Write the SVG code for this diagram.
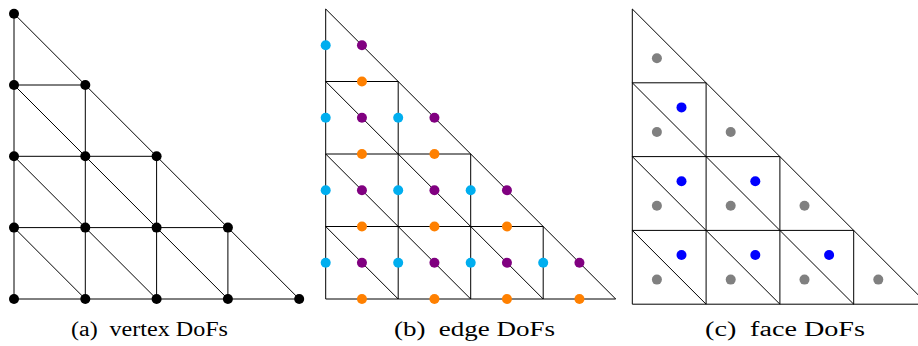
<svg xmlns="http://www.w3.org/2000/svg" width="918" height="346" viewBox="0 0 918 346">
<style>
.ln{fill:none;stroke:#000;stroke-width:1}
.v{fill:#000}
.cy{fill:#00aeef}
.pu{fill:#800080}
.or{fill:#ff8000}
.gr{fill:#808080}
.bl{fill:#0000ff}
.cap{font-family:"Liberation Serif","DejaVu Serif",serif;font-size:20.5px;fill:#000}
</style>
<defs>
<circle id="d" r="5"/>
</defs>
<rect width="918" height="346" fill="#fff"/>
<g id="connectors">
<path class="ln" d="M14,13.7 L14,299 L299.2,299 Z M14,85 L85.3,85 M14,156.3 L156.6,156.3 M14,227.6 L227.9,227.6 M85.3,85 L85.3,299 M156.6,156.3 L156.6,299 M227.9,227.6 L227.9,299 M14,85 L227.9,299 M14,156.3 L156.6,299 M14,227.6 L85.3,299"/>
<path class="ln" d="M325.7,9 L325.7,299 L615.7,299 Z M325.7,81.5 L398.2,81.5 M325.7,154 L470.7,154 M325.7,226.5 L543.2,226.5 M398.2,81.5 L398.2,299 M470.7,154 L470.7,299 M543.2,226.5 L543.2,299 M325.7,81.5 L543.2,299 M325.7,154 L470.7,299 M325.7,226.5 L398.2,299"/>
<path class="ln" d="M632.3,9 L632.3,304.2 L927.5,304.2 Z M632.3,82.8 L706.1,82.8 M632.3,156.6 L779.9,156.6 M632.3,230.4 L853.7,230.4 M706.1,82.8 L706.1,304.2 M779.9,156.6 L779.9,304.2 M853.7,230.4 L853.7,304.2 M632.3,82.8 L853.7,304.2 M632.3,156.6 L779.9,304.2 M632.3,230.4 L706.1,304.2"/>
</g>
<g id="panel-a-nodes" class="v">
<use href="#d" x="14" y="13.7"/>
<use href="#d" x="14" y="85"/><use href="#d" x="85.3" y="85"/>
<use href="#d" x="14" y="156.3"/><use href="#d" x="85.3" y="156.3"/><use href="#d" x="156.6" y="156.3"/>
<use href="#d" x="14" y="227.6"/><use href="#d" x="85.3" y="227.6"/><use href="#d" x="156.6" y="227.6"/><use href="#d" x="227.9" y="227.6"/>
<use href="#d" x="14" y="299"/><use href="#d" x="85.3" y="299"/><use href="#d" x="156.6" y="299"/><use href="#d" x="227.9" y="299"/><use href="#d" x="299.2" y="299"/>
</g>
<g id="panel-b-vertical" class="cy">
<use href="#d" x="325.7" y="45.25"/>
<use href="#d" x="325.7" y="117.75"/><use href="#d" x="398.2" y="117.75"/>
<use href="#d" x="325.7" y="190.25"/><use href="#d" x="398.2" y="190.25"/><use href="#d" x="470.7" y="190.25"/>
<use href="#d" x="325.7" y="262.75"/><use href="#d" x="398.2" y="262.75"/><use href="#d" x="470.7" y="262.75"/><use href="#d" x="543.2" y="262.75"/>
</g>
<g id="panel-b-diagonal" class="pu">
<use href="#d" x="361.95" y="45.25"/>
<use href="#d" x="361.95" y="117.75"/><use href="#d" x="434.45" y="117.75"/>
<use href="#d" x="361.95" y="190.25"/><use href="#d" x="434.45" y="190.25"/><use href="#d" x="506.95" y="190.25"/>
<use href="#d" x="361.95" y="262.75"/><use href="#d" x="434.45" y="262.75"/><use href="#d" x="506.95" y="262.75"/><use href="#d" x="579.45" y="262.75"/>
</g>
<g id="panel-b-horizontal" class="or">
<use href="#d" x="361.95" y="81.5"/>
<use href="#d" x="361.95" y="154"/><use href="#d" x="434.45" y="154"/>
<use href="#d" x="361.95" y="226.5"/><use href="#d" x="434.45" y="226.5"/><use href="#d" x="506.95" y="226.5"/>
<use href="#d" x="361.95" y="299"/><use href="#d" x="434.45" y="299"/><use href="#d" x="506.95" y="299"/><use href="#d" x="579.45" y="299"/>
</g>
<g id="panel-c-lower" class="gr">
<use href="#d" x="656.9" y="58.2"/>
<use href="#d" x="656.9" y="132"/><use href="#d" x="730.7" y="132"/>
<use href="#d" x="656.9" y="205.8"/><use href="#d" x="730.7" y="205.8"/><use href="#d" x="804.5" y="205.8"/>
<use href="#d" x="656.9" y="279.6"/><use href="#d" x="730.7" y="279.6"/><use href="#d" x="804.5" y="279.6"/><use href="#d" x="878.3" y="279.6"/>
</g>
<g id="panel-c-upper" class="bl">
<use href="#d" x="681.5" y="107.4"/>
<use href="#d" x="681.5" y="181.2"/><use href="#d" x="755.3" y="181.2"/>
<use href="#d" x="681.5" y="255"/><use href="#d" x="755.3" y="255"/><use href="#d" x="829.1" y="255"/>
</g>
<g id="captions" class="cap">
<text x="71" y="336" textLength="157" lengthAdjust="spacingAndGlyphs">(a)<tspan dx="10">vertex DoFs</tspan></text>
<text x="394" y="336" textLength="161" lengthAdjust="spacingAndGlyphs">(b)<tspan dx="10">edge DoFs</tspan></text>
<text x="705" y="336" textLength="160" lengthAdjust="spacingAndGlyphs">(c)<tspan dx="10">face DoFs</tspan></text>
</g>
</svg>
